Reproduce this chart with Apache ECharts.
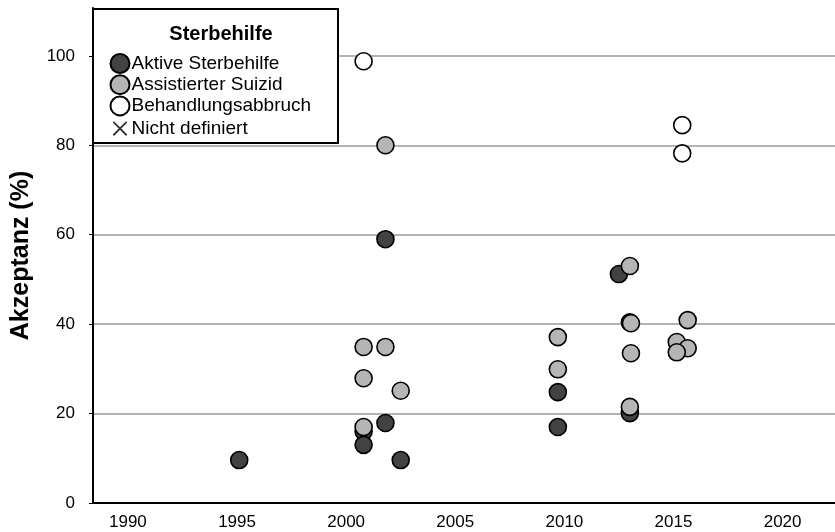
<!DOCTYPE html>
<html>
<head>
<meta charset="utf-8">
<script src="https://cdn.jsdelivr.net/npm/echarts@6/dist/echarts.min.js"></script>
<style>
html,body{margin:0;padding:0;background:#fff;}
#chart{width:835px;height:532px;}
</style>
</head>
<body>
<div id="chart"></div>
<script>
// Data: [year, acceptance %]
var aktive = [
  [1995.1, 9.6], [2000.8, 16.0], [2000.8, 13.0], [2001.8, 59.0], [2001.8, 17.9],
  [2002.5, 9.6], [2009.7, 17.0], [2009.7, 24.8], [2012.5, 51.2], [2013.0, 40.4], [2013.0, 20.1]
];
var assistiert = [
  [2001.8, 80.0], [2000.8, 34.9], [2001.8, 34.9], [2000.8, 27.9], [2002.5, 25.1],
  [2000.8, 17.0], [2009.7, 37.1], [2009.7, 29.9], [2013.0, 53.0], [2013.05, 40.2],
  [2013.05, 33.5], [2013.0, 21.5], [2015.65, 40.9], [2015.15, 36.0], [2015.65, 34.6], [2015.15, 33.7]
];
var abbruch = [
  [2000.8, 98.8], [2015.4, 84.5], [2015.4, 78.2]
];
var nichtDefiniert = [];

var seriesNames = ['Aktive Sterbehilfe', 'Assistierter Suizid', 'Behandlungsabbruch', 'Nicht definiert'];
var legendTitle = 'Sterbehilfe';
var yAxisTitle = 'Akzeptanz (%)';
var xTicks = [1990, 1995, 2000, 2005, 2010, 2015, 2020];
var yTicks = [0, 20, 40, 60, 80, 100];

var FONT = '"Liberation Sans", Arial, Helvetica, sans-serif';
var chart = echarts.init(document.getElementById('chart'), null, {renderer: 'canvas'});

function sc(name, data, fill) {
  return {
    name: name,
    type: 'scatter',
    data: data,
    symbol: 'circle',
    symbolSize: 17,
    itemStyle: {color: fill, borderColor: '#000', borderWidth: 1.6, opacity: 1},
    emphasis: {disabled: true}
  };
}

var crossPath = 'path://M0,0M20,20M3,3L17,17M17,3L3,17';

chart.setOption({
  animation: false,
  backgroundColor: '#fff',
  grid: {left: 93, top: 8, right: 0, bottom: 29, containLabel: false},
  title: {
    text: legendTitle,
    left: 216, top: 19, textAlign: 'center',
    textStyle: {fontFamily: FONT, fontWeight: 'bold', fontSize: 20, color: '#000'},
    z: 10
  },
  graphic: [{
    type: 'rect', z: 5,
    shape: {x: 93, y: 9, width: 245, height: 134},
    style: {fill: '#fff', stroke: '#000', lineWidth: 2}
  }],
  legend: {
    orient: 'vertical', left: 103, top: 48, z: 10,
    itemWidth: 19, itemHeight: 19, itemGap: 0.2,
    textStyle: {fontFamily: FONT, fontSize: 19, lineHeight: 19, color: '#000', padding: [0, 0, 0, -3]},
    data: [
      {name: seriesNames[0]},
      {name: seriesNames[1]},
      {name: seriesNames[2]},
      {name: seriesNames[3], icon: crossPath, itemStyle: {color: 'none', borderColor: '#000', borderWidth: 1.8}}
    ]
  },
  xAxis: {
    type: 'value', min: 1988.4, max: 2022.4,
    axisLine: {show: true, lineStyle: {color: '#000', width: 2}},
    axisTick: {show: false},
    splitLine: {show: false},
    axisLabel: {customValues: xTicks, fontFamily: FONT, fontSize: 17, color: '#000', margin: 11, formatter: function (v) { return String(v); }}
  },
  yAxis: {
    type: 'value', min: 0, max: 110.7,
    name: yAxisTitle, nameLocation: 'middle', nameRotate: 90, nameGap: 59,
    nameTextStyle: {fontFamily: FONT, fontWeight: 'bold', fontSize: 25, color: '#000'},
    axisLine: {show: true, lineStyle: {color: '#000', width: 2}},
    axisTick: {show: true, customValues: yTicks, length: 4, lineStyle: {color: '#000', width: 1}},
    splitLine: {show: true, lineStyle: {color: '#9a9a9a', width: 1.5}},
    axisLabel: {customValues: yTicks, fontFamily: FONT, fontSize: 17, color: '#000', margin: 18}
  },
  series: [
    sc(seriesNames[0], aktive, '#424242'),
    sc(seriesNames[1], assistiert, '#b5b5b5'),
    sc(seriesNames[2], abbruch, '#ffffff'),
    {name: seriesNames[3], type: 'scatter', data: nichtDefiniert, symbol: crossPath, symbolSize: 14,
     itemStyle: {color: 'none', borderColor: '#000', borderWidth: 1.8}}
  ]
});
</script>
</body>
</html>
